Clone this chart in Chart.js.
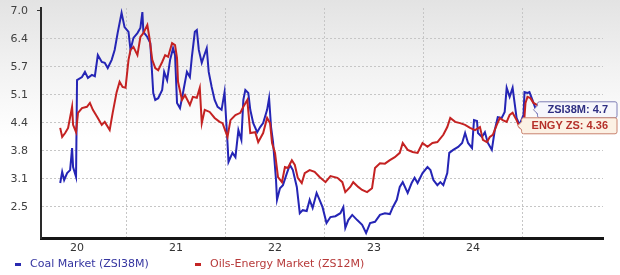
<!DOCTYPE html>
<html>
<head>
<meta charset="utf-8">
<script src="https://cdn.jsdelivr.net/npm/chart.js@4.4.1/dist/chart.umd.min.js"></script>
<style>
  html, body { margin: 0; padding: 0; }
  body {
    width: 620px; height: 275px; overflow: hidden;
    background: linear-gradient(to bottom, #e3e3e3 0%, #f2f2f2 25%, #ffffff 50%);
    font-family: "DejaVu Sans", Verdana, sans-serif;
  }
  #wrap { position: relative; width: 620px; height: 275px; }
  .legend { position: absolute; top: 257px; font-size: 11px; line-height: 14px; white-space: nowrap; }
  .legend i { display: inline-block; width: 6px; height: 3px; vertical-align: middle; margin-right: 9px; }
</style>
</head>
<body>
<div id="wrap">
  <canvas id="chart"></canvas>
  <div class="legend" style="left:15px; color:#3535a0;"><i style="background:#2a2ab0"></i>Coal Market (ZSI38M)</div>
  <div class="legend" style="left:195px; color:#b73a3a;"><i style="background:#c42525"></i>Oils-Energy Market (ZS12M)</div>
</div>
<script>
// Coal Market (ZSI38M) vs Oils-Energy Market (ZS12M)

// --- Dane ---
const coalX = [2019.83,2019.85,2019.87,2019.90,2019.93,2019.95,2019.96,2019.99,2020.00,2020.05,
  2020.08,2020.11,2020.15,2020.18,2020.21,2020.25,2020.28,2020.31,2020.35,2020.38,
  2020.41,2020.45,2020.48,2020.52,2020.54,2020.57,2020.61,2020.64,2020.66,2020.67,
  2020.71,2020.74,2020.77,2020.79,2020.82,2020.86,2020.88,2020.91,2020.94,2020.97,
  2020.99,2021.01,2021.04,2021.07,2021.11,2021.14,2021.16,2021.19,2021.21,2021.23,
  2021.26,2021.28,2021.31,2021.33,2021.36,2021.39,2021.42,2021.46,2021.49,2021.52,
  2021.53,2021.57,2021.60,2021.63,2021.66,2021.68,2021.70,2021.73,2021.75,2021.78,
  2021.82,2021.85,2021.88,2021.92,2021.94,2021.96,2021.98,2022.01,2022.02,2022.05,
  2022.08,2022.12,2022.15,2022.18,2022.22,2022.25,2022.28,2022.32,2022.35,2022.38,
  2022.42,2022.45,2022.48,2022.52,2022.56,2022.61,2022.66,2022.69,2022.71,2022.74,
  2022.78,2022.83,2022.88,2022.92,2022.96,2023.01,2023.06,2023.11,2023.16,2023.19,
  2023.23,2023.26,2023.29,2023.34,2023.38,2023.41,2023.44,2023.49,2023.54,2023.57,
  2023.60,2023.64,2023.67,2023.70,2023.74,2023.76,2023.80,2023.85,2023.89,2023.92,
  2023.95,2023.99,2024.01,2024.04,2024.05,2024.09,2024.12,2024.15,2024.19,2024.22,
  2024.25,2024.29,2024.32,2024.34,2024.37,2024.40,2024.42,2024.44,2024.47,2024.51,
  2024.52,2024.55,2024.57,2024.60,2024.63,2024.66,2024.70,2024.73];
const coalY = [3.00,3.26,3.07,3.23,3.30,3.81,3.37,3.14,5.39,5.46,
  5.58,5.44,5.51,5.48,5.97,5.81,5.79,5.67,5.86,6.09,
  6.48,6.95,6.62,6.51,6.09,6.37,6.48,6.60,6.97,6.51,
  6.39,6.25,5.09,4.93,4.97,5.16,5.58,5.39,5.86,6.13,
  5.97,4.86,4.74,5.09,5.58,5.46,5.93,6.51,6.55,6.09,
  5.79,5.93,6.13,5.58,5.23,4.93,4.77,4.70,5.11,3.93,
  3.49,3.70,3.60,4.23,4.00,4.93,5.16,5.09,4.70,4.39,
  4.18,4.30,4.39,4.70,4.97,4.30,3.95,3.07,2.61,2.88,
  2.95,3.23,3.42,3.30,2.91,2.30,2.37,2.35,2.61,2.42,
  2.77,2.61,2.44,2.07,2.21,2.23,2.30,2.44,1.96,2.14,
  2.26,2.14,2.03,1.84,2.07,2.10,2.26,2.30,2.28,2.44,
  2.61,2.91,3.02,2.77,3.00,3.12,3.00,3.23,3.37,3.30,
  3.07,2.95,3.02,2.95,3.23,3.70,3.77,3.84,3.93,4.16,
  3.93,3.81,4.46,4.44,4.16,4.07,4.18,3.93,3.77,4.23,
  4.53,4.51,4.65,5.21,5.00,5.21,4.86,4.51,4.35,4.58,
  5.11,5.09,5.11,4.93,4.74,4.58,4.60,4.7];

const oilsX = [2019.83,2019.85,2019.88,2019.91,2019.95,2019.96,2019.99,2020.01,2020.05,2020.10,
  2020.13,2020.16,2020.21,2020.25,2020.28,2020.33,2020.36,2020.40,2020.43,2020.46,
  2020.49,2020.52,2020.54,2020.57,2020.61,2020.64,2020.67,2020.71,2020.73,2020.76,
  2020.79,2020.82,2020.86,2020.89,2020.92,2020.96,2020.99,2021.01,2021.02,2021.06,
  2021.09,2021.14,2021.17,2021.21,2021.24,2021.26,2021.29,2021.34,2021.39,2021.44,
  2021.47,2021.52,2021.55,2021.60,2021.65,2021.68,2021.72,2021.75,2021.80,2021.83,
  2021.88,2021.92,2021.95,2021.97,2022.00,2022.03,2022.07,2022.10,2022.13,2022.17,
  2022.20,2022.23,2022.27,2022.30,2022.35,2022.40,2022.45,2022.51,2022.56,2022.63,
  2022.68,2022.71,2022.76,2022.79,2022.84,2022.88,2022.93,2022.98,2023.01,2023.06,
  2023.11,2023.16,2023.21,2023.26,2023.29,2023.34,2023.39,2023.44,2023.49,2023.54,
  2023.59,2023.64,2023.70,2023.74,2023.77,2023.82,2023.87,2023.92,2023.97,2024.02,
  2024.07,2024.10,2024.14,2024.17,2024.20,2024.24,2024.27,2024.30,2024.34,2024.37,
  2024.40,2024.44,2024.47,2024.51,2024.53,2024.55,2024.58,2024.61,2024.65,2024.68,2024.73];
const oilsY = [4.28,4.07,4.16,4.28,4.77,4.35,4.18,4.63,4.74,4.77,
  4.86,4.70,4.51,4.35,4.42,4.23,4.63,5.11,5.35,5.23,
  5.21,5.86,6.09,6.16,5.97,6.39,6.48,6.67,6.39,5.86,
  5.67,5.62,5.81,5.97,5.93,6.25,6.20,5.90,5.35,4.93,
  5.04,4.81,5.00,4.98,5.21,4.39,4.70,4.65,4.51,4.42,
  4.39,4.07,4.46,4.58,4.63,4.77,4.93,4.16,4.18,3.95,
  4.16,4.51,4.39,3.93,3.70,3.14,3.02,3.37,3.35,3.53,
  3.42,3.12,3.00,3.23,3.30,3.26,3.14,3.02,3.16,3.12,
  3.02,2.79,2.91,3.02,2.91,2.84,2.79,2.88,3.35,3.46,
  3.45,3.53,3.60,3.70,3.93,3.77,3.72,3.70,3.93,3.84,
  3.93,3.95,4.12,4.30,4.51,4.42,4.39,4.35,4.28,4.23,
  4.30,4.00,3.95,4.07,4.12,4.35,4.51,4.46,4.42,4.58,
  4.63,4.46,4.30,4.23,4.86,5.00,4.97,4.86,4.81,4.81,4.36];

const yTickValues = [2.45, 3.1, 3.75, 4.4, 5.05, 5.7, 6.35, 7.0];
const yTickLabels = ['2.5', '3.1', '3.8', '4.4', '5.1', '5.7', '6.4', '7.0'];
const xTickValues = [2020, 2021, 2022, 2023, 2024];
const xTickLabels = ['20', '21', '22', '23', '24'];
const xGridValues = [2020.5, 2021.5, 2022.5, 2023.5, 2024.5];

const coalColor = '#2525b5';
const oilsColor = '#c42222';

// etykiety z ostatnią wartością po prawej stronie
const endBoxes = [
    { text: 'ZSI38M: ' + coalY[coalY.length - 1], value: coalY[coalY.length - 1], fg: '#2e2e82', bg: '#f6f6fb', border: '#7f7fb5' },
    { text: 'ENGY ZS: ' + oilsY[oilsY.length - 1], value: oilsY[oilsY.length - 1], fg: '#b5302a', bg: '#fcf1e4', border: '#c98470' }
];

const endLabelsPlugin = {
    id: 'endLabels',
    afterDatasetsDraw(chart) {
        const { ctx, chartArea, scales: { y } } = chart;
        ctx.save();
        ctx.font = 'bold 11px "Liberation Sans", Arial, sans-serif';
        ctx.textBaseline = 'middle';
        let prevBottom = -Infinity;
        endBoxes.forEach(b => {
            const h = 16;
            const tw = ctx.measureText(b.text).width;
            const right = chartArea.right + 14;
            const left = right - tw - 19;
            let top = y.getPixelForValue(b.value) - h / 2;
            if (top < prevBottom) top = prevBottom;
            prevBottom = top + h;
            const mid = top + h / 2;
            ctx.beginPath();
            ctx.moveTo(left + 2, top);
            ctx.lineTo(right - 2, top);
            ctx.quadraticCurveTo(right, top, right, top + 2);
            ctx.lineTo(right, top + h - 2);
            ctx.quadraticCurveTo(right, top + h, right - 2, top + h);
            ctx.lineTo(left + 2, top + h);
            ctx.quadraticCurveTo(left, top + h, left, top + h - 2);
            ctx.lineTo(left, mid + 4);
            ctx.lineTo(left - 4, mid);
            ctx.lineTo(left, mid - 4);
            ctx.lineTo(left, top + 2);
            ctx.quadraticCurveTo(left, top, left + 2, top);
            ctx.closePath();
            ctx.fillStyle = b.bg;
            ctx.fill();
            ctx.lineWidth = 1;
            ctx.strokeStyle = b.border;
            ctx.stroke();
            ctx.fillStyle = b.fg;
            ctx.textAlign = 'right';
            ctx.fillText(b.text, right - 9, mid + 0.5);
        });
        ctx.restore();
    }
};

Chart.defaults.font.family = '"DejaVu Sans", Verdana, sans-serif';
Chart.defaults.font.size = 11;
Chart.defaults.color = '#3c3c3c';

const ctx = document.getElementById('chart').getContext('2d');
new Chart(ctx, {
    type: 'line',
    data: {
        datasets: [
            {
                label: 'Coal Market (ZSI38M)',
                data: coalX.map((x, i) => ({ x, y: coalY[i] })),
                borderColor: coalColor,
                borderWidth: 2,
                pointRadius: 0,
                tension: 0,
                order: 1
            },
            {
                label: 'Oils-Energy Market (ZS12M)',
                data: oilsX.map((x, i) => ({ x, y: oilsY[i] })),
                borderColor: oilsColor,
                borderWidth: 2,
                pointRadius: 0,
                tension: 0,
                order: 0
            }
        ]
    },
    options: {
        responsive: true,
        maintainAspectRatio: false,
        animation: false,
        layout: { padding: { top: 8, right: 17, left: 0, bottom: 0 } },
        plugins: { legend: { display: false }, tooltip: { enabled: false } },
        scales: {
            x: {
                type: 'linear',
                min: 2019.636,
                max: 2025.313,
                afterFit: scale => {
                    scale.height = 37;
                    scale.paddingLeft = 0;
                    scale.paddingRight = 0;
                },
                afterBuildTicks: scale => {
                    scale.ticks = [...xTickValues, ...xGridValues].sort((a, b) => a - b).map(v => ({ value: v }));
                },
                ticks: {
                    autoSkip: false,
                    maxRotation: 0,
                    padding: 4,
                    color: '#333',
                    callback: value => {
                        const i = xTickValues.indexOf(value);
                        return i >= 0 ? xTickLabels[i] : '';
                    }
                },
                grid: {
                    drawTicks: false,
                    color: c => xGridValues.includes(c.tick && c.tick.value) ? '#c6c6c6' : 'rgba(0,0,0,0)',
                    lineWidth: 1
                },
                border: { display: true, color: '#151515', width: 3, dash: [2, 2] }
            },
            y: {
                min: 1.724,
                max: 7.063,
                afterFit: scale => {
                    scale.width = 41;
                    scale.paddingTop = 0;
                    scale.paddingBottom = 0;
                },
                afterBuildTicks: scale => {
                    scale.ticks = yTickValues.map(v => ({ value: v }));
                },
                ticks: {
                    padding: 9,
                    color: '#404040',
                    callback: value => {
                        const i = yTickValues.indexOf(value);
                        return i >= 0 ? yTickLabels[i] : '';
                    }
                },
                grid: {
                    tickLength: 4,
                    color: c => (c.tick && c.tick.value === 7.0) ? 'rgba(0,0,0,0)' : '#c6c6c6',
                    tickColor: c => (c.tick && c.tick.value === 7.0) ? '#333' : 'rgba(0,0,0,0)',
                    lineWidth: 1
                },
                border: { display: true, color: '#2a2a2a', width: 2, dash: [2, 2] }
            }
        }
    },
    plugins: [endLabelsPlugin]
});
</script>
</body>
</html>
